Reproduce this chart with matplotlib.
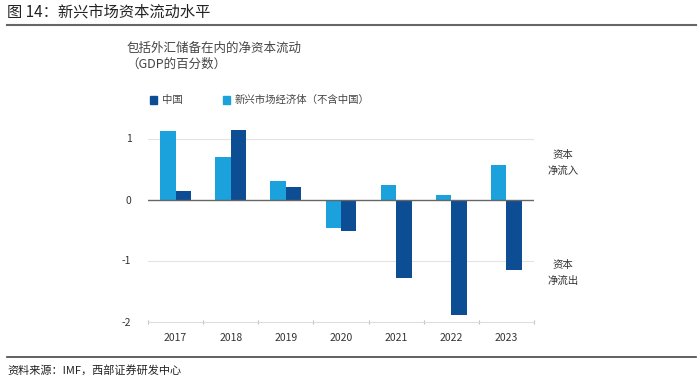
import matplotlib
matplotlib.use("Agg")
import matplotlib.pyplot as plt
import numpy as np
from matplotlib.lines import Line2D
from matplotlib.patches import Rectangle

plt.rcParams['font.family'] = ['Noto Sans CJK SC', 'DejaVu Sans']

years = ['2017', '2018', '2019', '2020', '2021', '2022', '2023']
em_ex_china = [1.12, 0.69, 0.31, -0.47, 0.23, 0.07, 0.56]
china = [0.14, 1.14, 0.20, -0.52, -1.28, -1.90, -1.16]
series_names = ['中国', '新兴市场经济体（不含中国）']
yticks = [-2, -1, 0, 1]

DARK = '#0c4d94'
LIGHT = '#1ba1dc'
W, H = 700, 379

fig = plt.figure(figsize=(7, 3.79), dpi=100)

def fx(px):
    return px / W

def fy(py):
    return 1 - py / H

# axes geometry in pixels
left, right = 148, 534
ybot, ytop = 321.5, 120.2
ax = fig.add_axes([fx(left), fy(ybot), fx(right - left), (ybot - ytop) / H])

x = np.arange(len(years))
bw = 0.28
ax.bar(x - bw / 2, em_ex_china, width=bw, color=LIGHT, zorder=3)
ax.bar(x + bw / 2, china, width=bw, color=DARK, zorder=3)

ax.set_xlim(-0.5, len(years) - 0.5)
ax.set_ylim(-2, 1.3)
ax.set_yticks(yticks)
ax.set_yticklabels([str(v) for v in yticks])
ax.tick_params(axis='y', length=0, pad=12, labelsize=7.5, labelcolor='#333333')
ax.set_xticks(x)
ax.set_xticklabels(years)
ax.tick_params(axis='x', which='major', length=0, pad=8, labelsize=7.5, labelcolor='#333333')
ax.set_xticks(np.arange(-0.5, len(years)), minor=True)
ax.tick_params(axis='x', which='minor', length=3, direction='inout', color='#bbbbbb', width=0.8)

for s in ['top', 'right', 'left']:
    ax.spines[s].set_visible(False)
ax.spines['bottom'].set_color('#dddddd')
ax.spines['bottom'].set_linewidth(0.8)

for v in [1, -1]:
    ax.axhline(v, color='#e3e3e3', lw=0.8, zorder=1)
ax.axhline(0, color='#666666', lw=1.0, zorder=4)

# header
fig.text(fx(7), fy(12), '图 14：新兴市场资本流动水平', fontsize=11, color='#222222',
         va='center', ha='left')
fig.add_artist(Line2D([fx(7), fx(696)], [fy(25), fy(25)], color='#666666', lw=1.5))

# chart titles
fig.text(fx(127), fy(48), '包括外汇储备在内的净资本流动', fontsize=9, color='#444444',
         va='center', ha='left')
fig.text(fx(126), fy(64), '（GDP的百分数）', fontsize=9, color='#444444',
         va='center', ha='left')

# legend
ly = 100
fig.add_artist(Rectangle((fx(150), fy(ly + 3.5)), fx(7), 7 / H, color=DARK,
                         transform=fig.transFigure))
fig.text(fx(162), fy(ly), series_names[0], fontsize=7.5, color='#444444', va='center', ha='left')
fig.add_artist(Rectangle((fx(223), fy(ly + 3.5)), fx(7), 7 / H, color=LIGHT,
                         transform=fig.transFigure))
fig.text(fx(235), fy(ly), series_names[1], fontsize=7.5, color='#444444', va='center', ha='left')

# right annotations
fig.text(fx(563), fy(163), '资本\n净流入', fontsize=7.5, color='#333333',
         va='center', ha='center', linespacing=1.6)
fig.text(fx(563), fy(273), '资本\n净流出', fontsize=7.5, color='#333333',
         va='center', ha='center', linespacing=1.6)

# footer
fig.add_artist(Line2D([fx(7), fx(696)], [fy(357), fy(357)], color='#444444', lw=1.2))
fig.text(fx(7), fy(370), '资料来源：IMF，西部证券研发中心', fontsize=8, color='#222222',
         va='center', ha='left')

fig.savefig('out.png', dpi=100)
